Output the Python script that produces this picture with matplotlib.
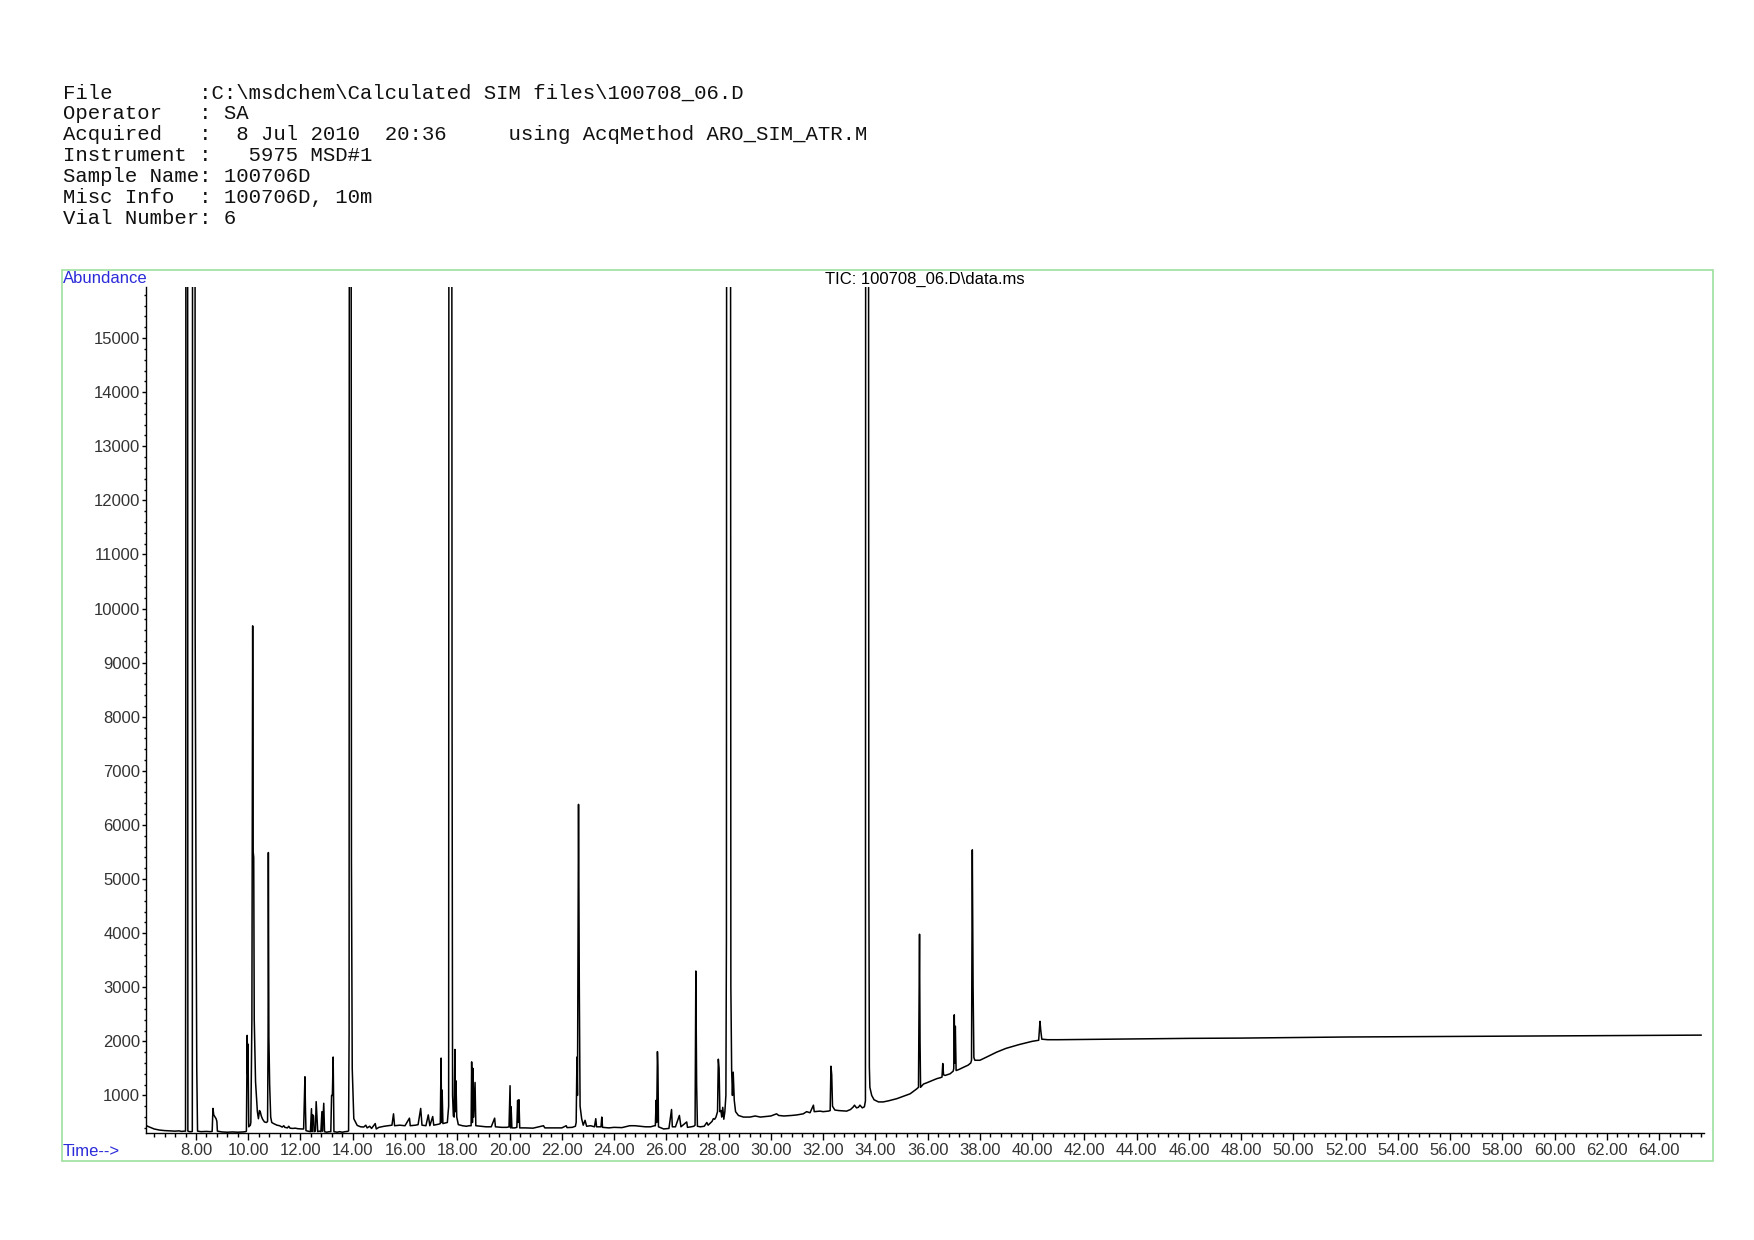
import matplotlib
matplotlib.use("Agg")
import matplotlib.pyplot as plt
from matplotlib.patches import Rectangle
from matplotlib.ticker import MultipleLocator, FormatStrFormatter

plt.rcParams['font.family'] = ['Liberation Sans', 'DejaVu Sans']

# Header block (ChemStation report)
header_lines = [
    r"File       :C:\msdchem\Calculated SIM files\100708_06.D",
    "Operator   : SA",
    "Acquired   :  8 Jul 2010  20:36     using AcqMethod ARO_SIM_ATR.M",
    "Instrument :   5975 MSD#1",
    "Sample Name: 100706D",
    "Misc Info  : 100706D, 10m",
    "Vial Number: 6",
]
trace_title = r"TIC: 100708_06.D\data.ms"

# TIC trace: retention time (min) and abundance
rt_min = [
    6.08, 6.15, 6.25, 6.4, 6.6, 6.8, 7.0, 7.2, 7.35, 7.45, 7.55,
    7.60, 7.61, 7.62, 7.67, 7.69, 7.75, 7.82,
    7.86, 7.88, 7.95, 7.97, 8.00, 8.03, 8.06, 8.2, 8.4, 8.55,
    8.62, 8.65, 8.68, 8.72, 8.77, 8.80, 8.82, 9.0, 9.2, 9.4, 9.6, 9.8, 9.9,
    9.93, 9.96, 9.98, 9.99, 10.02, 10.08,
    10.10, 10.14, 10.17, 10.19, 10.21, 10.23, 10.28, 10.35, 10.39, 10.43, 10.46, 10.50, 10.55, 10.62, 10.70,
    10.74, 10.76, 10.77, 10.79, 10.82, 10.86, 10.90, 10.97, 11.1, 11.2, 11.3, 11.36, 11.4, 11.5, 11.55,
    11.6, 11.7, 11.8, 11.9, 12.05,
    12.12, 12.15, 12.17, 12.19, 12.21,
    12.28, 12.38, 12.42, 12.44, 12.47, 12.50, 12.52, 12.57, 12.60, 12.63, 12.66, 12.72, 12.78, 12.82,
    12.84, 12.89, 12.92, 13.0, 13.1,
    13.16, 13.19, 13.22, 13.25, 13.28, 13.4, 13.5, 13.6, 13.7, 13.8,
    13.84, 13.86, 13.88, 13.92, 13.95, 13.98, 14.04, 14.17, 14.3, 14.42, 14.5, 14.55, 14.65, 14.72,
    14.86, 14.9, 15.0, 15.2, 15.35, 15.5,
    15.56, 15.6, 15.8, 16.0, 16.17, 16.2, 16.4, 16.5, 16.6, 16.65, 16.8, 16.89, 16.95, 17.06, 17.1,
    17.2, 17.3,
    17.35, 17.38, 17.40, 17.42, 17.45,
    17.62, 17.67, 17.69, 17.77, 17.80, 17.82, 17.85, 17.88,
    17.91, 17.93, 17.95, 17.98, 18.04, 18.2, 18.35, 18.45,
    18.53, 18.55, 18.58, 18.60, 18.63, 18.68, 18.71, 18.9, 19.1, 19.3, 19.43, 19.46, 19.7, 19.9,
    19.98, 20.02, 20.04, 20.06, 20.09, 20.2, 20.28, 20.31, 20.33, 20.36, 20.39, 20.6, 20.9, 21.3,
    21.35, 21.7, 22.0, 22.17, 22.2, 22.4, 22.52,
    22.55, 22.58, 22.60, 22.64, 22.67, 22.70, 22.76, 22.82, 22.89, 22.95, 23.1, 23.25, 23.30, 23.33,
    23.5, 23.53, 23.56, 23.8, 24.0, 24.3, 24.6, 24.8, 25.0, 25.2, 25.4, 25.55,
    25.58, 25.61, 25.63, 25.66, 25.68, 25.70, 25.8, 25.9, 26.1,
    26.20, 26.23, 26.35, 26.50, 26.53, 26.56, 26.78, 26.81, 26.95, 27.05,
    27.10, 27.13, 27.16, 27.19, 27.3, 27.45, 27.55, 27.6, 27.75, 27.8, 27.85, 27.9, 27.96,
    27.99, 28.02, 28.05, 28.09, 28.12, 28.16, 28.20, 28.24,
    28.28, 28.30, 28.32, 28.44, 28.47, 28.50, 28.53, 28.56, 28.60, 28.65, 28.76, 28.95, 29.2, 29.4,
    29.6, 29.8, 30.0, 30.22, 30.3, 30.5, 30.8, 31.0, 31.24, 31.37, 31.5, 31.63, 31.66, 31.88, 32.0, 32.2,
    32.27, 32.30, 32.33, 32.36, 32.45, 32.6, 32.9, 33.05, 33.16, 33.2, 33.28, 33.35, 33.41, 33.5, 33.58,
    33.62, 33.64, 33.72, 33.75, 33.77, 33.79, 33.86, 33.95, 34.12, 34.3, 34.5, 34.82, 35.1, 35.33, 35.58,
    35.65, 35.69, 35.71, 35.73, 35.84, 36.0, 36.2, 36.35, 36.5,
    36.55, 36.58, 36.61, 36.67, 36.86, 36.98,
    37.00, 37.02, 37.04, 37.06, 37.09, 37.2, 37.37, 37.55, 37.65,
    37.68, 37.71, 37.74, 37.77, 37.81, 38.0, 38.26, 38.64, 39.0, 39.5, 40.0, 40.25, 40.30, 40.33, 40.37,
    40.6, 41.0, 42.0, 44.0, 46.0, 48.0, 50.0, 52.0, 54.0, 56.0, 58.0, 60.0, 62.0, 64.0, 65.6,
]
abundance = [
    450, 430, 410, 380, 360, 350, 345, 340, 345, 335, 340,
    340, 6300, 40000, 40000, 340, 330, 330,
    335, 40000, 40000, 9500, 5100, 1500, 340, 330, 335, 330,
    335, 760, 640, 610, 570, 520, 340, 325, 320, 325, 320, 325, 330,
    340, 2110, 1400, 1950, 420, 450,
    500, 2400, 9680, 5500, 5400, 2400, 1250, 700, 570, 720, 700, 620, 560, 510, 500,
    520, 2100, 5490, 2080, 1200, 600, 500, 480, 450, 440, 415, 440, 410, 400, 430,
    395, 390, 395, 385, 380,
    380, 1000, 1345, 760, 350,
    340, 330, 755, 330, 640, 620, 330, 340, 885, 600, 330, 340, 330, 700,
    340, 855, 330, 320, 330,
    330, 1000, 1000, 1710, 330, 320, 330, 320, 330, 335,
    345, 2150, 40000, 40000, 5300, 1500, 570, 446, 420, 416, 450, 400, 430, 390,
    480, 380, 410, 430, 440, 450,
    660, 440, 450, 440, 580, 440, 450, 460, 760, 450, 440, 640, 440, 610, 450,
    460, 470,
    480, 1690, 500, 1100, 480,
    500, 800, 40000, 40000, 8300, 1000, 620, 600,
    1850, 700, 1270, 600, 460, 440, 430, 440,
    440, 1620, 500, 1500, 600, 1240, 440, 430, 420, 420, 580, 420, 410, 410,
    420, 1180, 400, 790, 400, 400, 410, 910, 500, 920, 400, 400, 395, 440,
    400, 400, 400, 440, 405, 410, 430,
    500, 1710, 1000, 6380, 3000, 800, 570, 450, 540, 430, 440, 420, 570, 420,
    420, 600, 410, 400, 410, 405, 440, 440, 430, 420, 420, 440,
    440, 910, 500, 1810, 1500, 420, 400, 380, 390,
    740, 420, 420, 630, 530, 420, 510, 410, 420, 430,
    450, 3300, 1200, 430, 420, 430, 500, 450, 520, 570, 560, 600, 700,
    1670, 1500, 700, 720, 600, 780, 560, 700,
    1000, 3900, 40000, 40000, 3000, 1465, 1000, 1430, 910, 700, 630, 600, 600, 620,
    600, 610, 620, 660, 630, 620, 630, 640, 660, 700, 680, 820, 700, 710, 700, 710,
    720, 1540, 1380, 800, 730, 720, 710, 740, 790, 820, 770, 780, 820, 770, 790,
    900, 40000, 40000, 5300, 1530, 1150, 1000, 920, 880, 880, 900, 940, 990, 1030, 1120,
    1150, 3980, 2000, 1150, 1210, 1240, 1280, 1310, 1330,
    1340, 1590, 1380, 1370, 1400, 1450,
    1500, 2490, 1600, 2280, 1460, 1480, 1520, 1560, 1600,
    1650, 5540, 3000, 1700, 1650, 1650, 1710, 1800, 1870, 1940, 2000, 2020, 2370, 2200, 2040,
    2030, 2030, 2035, 2045, 2055, 2060, 2070, 2080, 2085, 2090, 2095, 2100, 2105, 2110, 2115,
]

W, H = 1754, 1240
fig = plt.figure(figsize=(W / 100, H / 100), dpi=100)

# header text, one line each
for i, line in enumerate(header_lines):
    y_px = 98.5 + i * 20.9
    fig.text(62.6 / W, 1 - y_px / H, line, family='Liberation Mono',
             fontsize=14.9, color='#111111', va='baseline', ha='left')

# green frame around the plot
fig.add_artist(Rectangle((61.5 / W, 1 - 1161 / H), (1712.6 - 61.5) / W, (1161 - 269.6) / H,
                         transform=fig.transFigure, fill=False,
                         edgecolor='#9ee09e', lw=1.2))

ax = fig.add_axes([145.8 / W, 1 - 1133.3 / H, (1703.7 - 145.8) / W, 846.6 / H])
ax.plot(rt_min, abundance, color='black', lw=1.1)

ax.set_xlim(6.08, 65.7)
ax.set_ylim(300, 15950)
ax.spines['top'].set_visible(False)
ax.spines['right'].set_visible(False)
ax.spines['left'].set_linewidth(1.0)
ax.spines['bottom'].set_linewidth(1.0)

ax.xaxis.set_minor_locator(MultipleLocator(0.4))
ax.xaxis.set_major_formatter(FormatStrFormatter('%.2f'))
ax.yaxis.set_major_locator(MultipleLocator(1000))
ax.yaxis.set_minor_locator(MultipleLocator(200))
ax.yaxis.set_major_formatter(FormatStrFormatter('%d'))
ax.set_xticks([v for v in range(8, 65, 2)])
ax.tick_params(axis='x', which='major', direction='out', length=5, width=1,
               labelsize=12, labelcolor='#333333', pad=2)
ax.tick_params(axis='x', which='minor', direction='out', length=3, width=1)
ax.tick_params(axis='y', which='major', direction='out', length=3, width=1,
               labelsize=12, labelcolor='#333333', pad=1)
ax.tick_params(axis='y', which='minor', direction='out', length=1.6, width=1)

fig.text(62.6 / W, 1 - 278.5 / H, 'Abundance', color='#2b2bd9', fontsize=12,
         va='center', ha='left')
fig.text(62.6 / W, 1 - 1152 / H, 'Time-->', color='#2b2bd9', fontsize=12,
         va='center', ha='left')
fig.text(925 / W, 1 - 279.7 / H, trace_title, color='black', fontsize=12,
         va='center', ha='center')

fig.savefig('out.png', dpi=100)
